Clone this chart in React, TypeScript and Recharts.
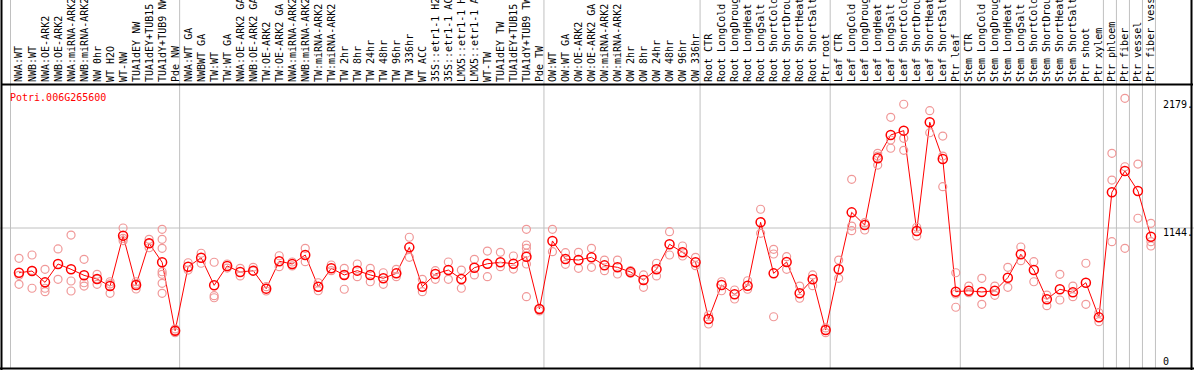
import { ComposedChart, Line, Scatter, XAxis, YAxis, ReferenceLine } from "recharts";

const GENE = "Potri.006G265600";

const SAMPLES = [
  "NWA:WT", "NWB:WT", "NWA:OE-ARK2", "NWB:OE-ARK2", "NWA:miRNA-ARK2", "NWB:miRNA-ARK2",
  "NW 0hr", "WT H2O", "WT-NW", "TUA1dEY NW", "TUA1dEY+TUB15 NW", "TUA1dY+TUB9 NW", "Pde NW",
  "NWA:WT GA", "NWBWT GA", "TW:WT", "TW:WT GA", "NWA:OE-ARK2 GA", "NWB:OE-ARK2 GA",
  "TW:OE-ARK2", "TW:OE-ARK2 GA", "NWA:miRNA-ARK2", "NWB:miRNA-ARK2", "TW:miRNA-ARK2",
  "TW:miRNA-ARK2", "TW 2hr", "TW 8hr", "TW 24hr", "TW 48hr", "TW 96hr", "TW 336hr",
  "WT ACC", "35S::etr1-1 H2O", "35S::etr1-1 ACC", "LMX5::etr1-1 H2O", "LMX5::etr1-1 ACC",
  "WT-TW", "TUA1dEY TW", "TUA1dEY+TUB15 TW", "TUA1dY+TUB9 TW", "Pde TW",
  "OW:WT", "OW:WT GA", "OW:OE-ARK2", "OW:OE-ARK2 GA", "OW:miRNA-ARK2", "OW:miRNA-ARK2",
  "OW 2hr", "OW 8hr", "OW 24hr", "OW 48hr", "OW 96hr", "OW 336hr",
  "Root CTR", "Root LongCold", "Root LongDrought", "Root LongHeat", "Root LongSalt",
  "Root ShortCold", "Root ShortDrought", "Root ShortHeat", "Root ShortSalt", "Ptr root",
  "Leaf CTR", "Leaf LongCold", "Leaf LongDrought", "Leaf LongHeat", "Leaf LongSalt",
  "Leaf ShortCold", "Leaf ShortDrought", "Leaf ShortHeat", "Leaf ShortSalt", "Ptr leaf",
  "Stem CTR", "Stem LongCold", "Stem LongDrought", "Stem LongHeat", "Stem LongSalt",
  "Stem ShortCold", "Stem ShortDrought", "Stem ShortHeat", "Stem ShortSalt", "Ptr shoot", "Ptr xylem",
  "Ptr phloem", "Ptr fiber", "Ptr vessel", "Ptr fiber vessel",
];

const MEANS = [
  781, 795, 703, 852, 809, 760, 730, 673, 1082, 682, 1020, 866, 311,
  830, 903, 679, 836, 787, 798, 652, 874, 852, 925, 668, 817, 763, 798, 763, 736, 776, 987,
  668, 771, 803, 730, 822, 854, 866, 854, 911, 487,
  1039, 892, 884, 906, 841, 825, 787, 722, 809, 1012, 947, 866,
  406, 682, 606, 676, 1190, 776, 868, 614, 728, 316,
  809, 1271, 1168, 1710, 1899, 1934, 1120, 2002, 1704, 627,
  635, 625, 635, 741, 931, 803, 566, 647, 622, 700, 419,
  1434, 1607, 1444, 1073,
];

const REPLICATES = [
  [898, 687, 760], [925, 655, 800], [809, 655, 627], [974, 728], [1087, 714, 633],
  [890, 700, 673], [768, 687, 730], [708, 614, 690], [1144, 1041, 1060], [708, 649, 690],
  [1052, 984, 1020], [1133, 1052, 979, 789, 768, 695, 614], [311, 295, 325],
  [862, 803], [939, 858], [866, 595, 578], [852, 819], [817, 755], [825, 795], [668, 633],
  [919, 830], [868, 836], [979, 871], [700, 635], [844, 798], [817, 647, 763], [852, 749],
  [817, 708], [781, 687], [809, 749], [1069, 906], [728, 627], [798, 728], [868, 728],
  [803, 655], [890, 763], [957, 749], [947, 830], [917, 811],
  [1133, 1006, 979, 939, 852, 587], [487, 471],
  [1133, 952], [944, 849], [947, 817], [979, 825], [884, 798], [884, 771], [798, 776],
  [763, 663], [858, 755], [1114, 925], [998, 917], [906, 838],
  [438, 365], [708, 635], [641, 568], [716, 647], [1296, 1101], [971, 933, 424],
  [911, 809], [673, 574], [763, 676], [333, 295],
  [884, 736], [1539, 1160, 1122], [1187, 1128], [1750, 1728, 1655], [2042, 1858, 1791],
  [2148, 1872, 1774], [1150, 1079], [2096, 1917], [1890, 1728, 1479], [781, 609, 501],
  [673, 619], [736, 525], [673, 598], [825, 663], [990, 879], [871, 708], [600, 514],
  [768, 560], [673, 587], [858, 525], [457, 384],
  [1750, 1533, 1033], [2196, 1641, 979], [1663, 1223], [1182, 1033, 998],
];

// group boundaries (index of first sample in the group, plus the end)
const GROUP_STARTS = [0, 13, 41, 53, 63, 73, 84, 85, 86, 87, 88];

const Y_TICKS = [0, 1144, 2179];

const W = 1194;
const H = 370;
const X_DOMAIN: [number, number] = [-1.46, 90.31];
const Y_DOMAIN: [number, number] = [0, 2994];
const FONT = "'DejaVu Sans Mono', monospace";

const meanData = MEANS.map((m, i) => ({ i, mean: m }));
const repData = REPLICATES.flatMap((reps, i) => reps.map((v) => ({ i, v })));

const HeaderTick = ({ x, payload }: any) => (
  <text
    transform={`translate(${x + 3.5}, 82) rotate(-90)`}
    fontFamily={FONT}
    fontSize={10}
    fill="#000"
  >
    {SAMPLES[payload.value]}
  </text>
);

const ValueTick = ({ y, payload }: any) => (
  <text x={1163} y={Math.min(y + 8, 365)} fontFamily={FONT} fontSize={10} fill="#000">
    {payload.value === 0 ? "0" : `${payload.value}.`}
  </text>
);

export default function App() {
  return (
    <div style={{ position: "absolute", left: 0, top: 0, width: W, height: H, background: "#fff", overflow: "hidden" }}>
      <ComposedChart width={W} height={H} data={meanData} margin={{ top: 0, right: 0, bottom: 1, left: 0 }}>
        <XAxis
          type="number"
          dataKey="i"
          domain={X_DOMAIN}
          allowDataOverflow
          orientation="top"
          mirror
          axisLine={false}
          tickLine={false}
          ticks={SAMPLES.map((_, i) => i)}
          interval={0}
          tick={<HeaderTick />}
        />
        <YAxis
          type="number"
          domain={Y_DOMAIN}
          allowDataOverflow
          orientation="right"
          mirror
          axisLine={false}
          tickLine={false}
          ticks={Y_TICKS}
          interval={0}
          tick={<ValueTick />}
        />
        {GROUP_STARTS.map((k) => (
          <ReferenceLine key={k} x={k - 0.653} stroke="#c0c0c0" strokeWidth={1} />
        ))}
        <ReferenceLine y={1144} stroke="#c0c0c0" strokeWidth={1} />
        <Scatter
          data={repData}
          dataKey="v"
          isAnimationActive={false}
          shape={(p: any) => <circle cx={p.cx} cy={p.cy} r={4} fill="none" stroke="#f09898" strokeWidth={1.2} />}
        />
        <Line
          type="linear"
          dataKey="mean"
          stroke="#ff0000"
          strokeWidth={1}
          isAnimationActive={false}
          dot={(p: any) => (
            <circle key={p.index} cx={p.cx} cy={p.cy} r={4.5} fill="none" stroke="#ff0000" strokeWidth={1.5} />
          )}
          activeDot={false}
        />
      </ComposedChart>
      <svg width={W} height={H} style={{ position: "absolute", left: 0, top: 0, pointerEvents: "none" }}>
        <text x={10} y={101} fontFamily={FONT} fontSize={10} fill="#ff0000">
          {GENE}
        </text>
        <line x1={1} x2={1193} y1={84.5} y2={84.5} stroke="#000" strokeWidth={2} />
        <line x1={1.5} x2={1.5} y1={0} y2={370} stroke="#000" strokeWidth={2} />
        <line x1={1191.5} x2={1191.5} y1={0} y2={370} stroke="#000" strokeWidth={2} />
        <line x1={0} x2={1194} y1={368.5} y2={368.5} stroke="#000" strokeWidth={2} />
      </svg>
    </div>
  );
}
